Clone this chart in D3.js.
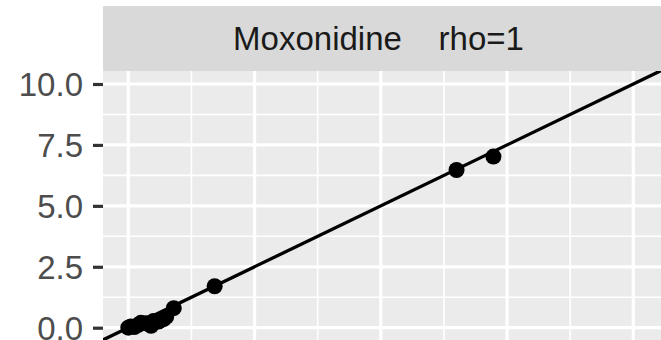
<!DOCTYPE html>
<html>
<head>
<meta charset="utf-8">
<script src="https://cdn.jsdelivr.net/npm/d3@7"></script>
<style>
  html, body { margin: 0; padding: 0; background: #ffffff; }
  svg { display: block; }
  text { font-family: "Liberation Sans", Arial, Helvetica, sans-serif; }
</style>
</head>
<body>
<svg id="chart" width="661" height="340"></svg>
<script>
// Facet label and correlation
const facetName = "Moxonidine";
const rhoLabel = "rho=1";

// Observed pairs
const xValues = [0.00, 0.05, 0.12, 0.20, 0.25, 0.35, 0.45, 0.50, 0.60, 0.70, 0.75, 0.90, 1.71, 6.50, 7.23];
const yValues = [0.00, 0.05, 0.03, 0.12, 0.20, 0.18, 0.08, 0.28, 0.25, 0.35, 0.45, 0.80, 1.70, 6.47, 7.02];

// Reference line y = slope * x + intercept
const lineSlope = 1;
const lineIntercept = 0;

// Axis breaks
const yTicks = [0, 2.5, 5, 7.5, 10];
const yTickLabels = ["0.0", "2.5", "5.0", "7.5", "10.0"];
const yMinorBreaks = [1.25, 3.75, 6.25, 8.75];
const xBreaks = [0, 2.5, 5, 7.5, 10];
const xMinorBreaks = [1.25, 3.75, 6.25, 8.75];

const W = 661, H = 340;
const panel = { left: 103, top: 71, right: 700, bottom: 360 };
const strip = { top: 6, bottom: 71 };

const x = d3.scaleLinear().domain([0, 10]).range([128.3, 633.3]);
const y = d3.scaleLinear().domain([0, 10]).range([327.7, 84]);

const svg = d3.select("#chart");

// clip for panel contents
svg.append("defs").append("clipPath").attr("id", "panelClip")
  .append("rect")
  .attr("x", panel.left).attr("y", panel.top)
  .attr("width", panel.right - panel.left).attr("height", panel.bottom - panel.top);

// panel background
svg.append("rect")
  .attr("x", panel.left).attr("y", panel.top)
  .attr("width", panel.right - panel.left).attr("height", panel.bottom - panel.top)
  .attr("fill", "#EBEBEB");

const grid = svg.append("g").attr("clip-path", "url(#panelClip)");

// minor grid
grid.selectAll("line.hminor").data(yMinorBreaks).join("line")
  .attr("x1", panel.left).attr("x2", panel.right)
  .attr("y1", d => y(d)).attr("y2", d => y(d))
  .attr("stroke", "#ffffff").attr("stroke-width", 1.6);
grid.selectAll("line.vminor").data(xMinorBreaks).join("line")
  .attr("y1", panel.top).attr("y2", panel.bottom)
  .attr("x1", d => x(d)).attr("x2", d => x(d))
  .attr("stroke", "#ffffff").attr("stroke-width", 1.6);

// major grid
grid.selectAll("line.hmajor").data(yTicks).join("line")
  .attr("x1", panel.left).attr("x2", panel.right)
  .attr("y1", d => y(d)).attr("y2", d => y(d))
  .attr("stroke", "#ffffff").attr("stroke-width", 3.2);
grid.selectAll("line.vmajor").data(xBreaks).join("line")
  .attr("y1", panel.top).attr("y2", panel.bottom)
  .attr("x1", d => x(d)).attr("x2", d => x(d))
  .attr("stroke", "#ffffff").attr("stroke-width", 3.2);

// fitted line across the panel
const xLo = x.invert(panel.left), xHi = x.invert(panel.right);
grid.append("line")
  .attr("x1", x(xLo)).attr("y1", y(lineSlope * xLo + lineIntercept))
  .attr("x2", x(xHi)).attr("y2", y(lineSlope * xHi + lineIntercept))
  .attr("stroke", "#000000").attr("stroke-width", 3.3);

// points
const pts = xValues.map((v, i) => ({ x: v, y: yValues[i] }));
grid.selectAll("circle").data(pts).join("circle")
  .attr("cx", d => x(d.x)).attr("cy", d => y(d.y))
  .attr("r", 8).attr("fill", "#000000");

// strip
svg.append("rect")
  .attr("x", panel.left).attr("y", strip.top)
  .attr("width", panel.right - panel.left).attr("height", strip.bottom - strip.top)
  .attr("fill", "#D9D9D9");
svg.append("text")
  .attr("x", 378.5).attr("y", 50)
  .attr("text-anchor", "middle")
  .attr("font-size", 33)
  .attr("fill", "#1A1A1A")
  .style("white-space", "pre")
  .text(facetName + "    " + rhoLabel);

// y axis
const yAxis = d3.axisLeft(y)
  .tickValues(yTicks)
  .tickFormat((d, i) => yTickLabels[i])
  .tickSize(10)
  .tickPadding(10);
const gy = svg.append("g").attr("transform", `translate(${panel.left},0)`).call(yAxis);
gy.select(".domain").remove();
gy.selectAll(".tick line").attr("stroke", "#333333").attr("stroke-width", 3.2);
gy.selectAll(".tick text")
  .attr("font-size", 33)
  .attr("font-family", "Liberation Sans, Arial, sans-serif")
  .attr("fill", "#4D4D4D")
  .attr("dy", "0.36em");
</script>
</body>
</html>
